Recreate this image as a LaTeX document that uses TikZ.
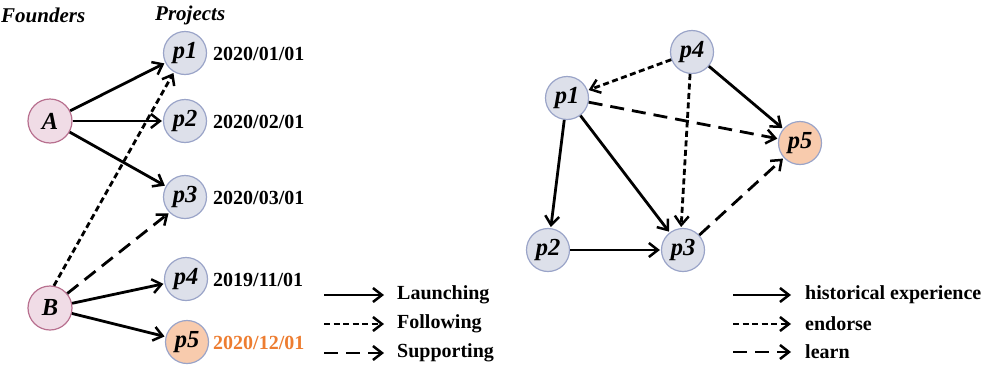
\documentclass[tikz,border=0pt]{standalone}
\usepackage{fontspec}
\setmainfont{Liberation Serif}
\usetikzlibrary{arrows.meta}
\definecolor{projfill}{HTML}{DDE0EA}
\definecolor{projdraw}{HTML}{9AA4C8}
\definecolor{foundfill}{HTML}{F0DCE6}
\definecolor{founddraw}{HTML}{B8708F}
\definecolor{hotfill}{HTML}{F8CBAD}
\definecolor{hotdate}{HTML}{ED7D31}
\tikzset{
  proj/.style={circle, minimum size=43pt, inner sep=0pt, fill=projfill, draw=projdraw, line width=1.2pt, font=\fontsize{24.5}{24}\selectfont\bfseries\itshape},
  hot/.style={proj, fill=hotfill},
  found/.style={circle, minimum size=44pt, inner sep=0pt, fill=foundfill, draw=founddraw, line width=1.2pt, font=\fontsize{24.5}{24}\selectfont\bfseries\itshape},
  datel/.style={anchor=west, inner sep=0pt, font=\fontsize{20}{20}\selectfont\bfseries},
  legt/.style={anchor=west, inner sep=0pt, font=\fontsize{20}{20}\selectfont\bfseries},
  headt/.style={anchor=west, inner sep=0pt, font=\fontsize{21}{21}\selectfont\bfseries\itshape},
  conn/.style={line width=2.8pt, -{Straight Barb[length=9pt,width=14pt,line width=2.5pt]}, shorten >=1pt},
  shortd/.style={conn, dash pattern=on 6pt off 3.5pt},
  longd/.style={conn, dash pattern=on 14pt off 8pt},
}
\begin{document}
\begin{tikzpicture}[x=1pt,y=-1pt]
\useasboundingbox (0,0) rectangle (985,370);
% headings
\node[headt] (hf) at (1,15) {Founders};
\node[headt] (hp) at (155,15) {Projects};
% left graph
\node[found] (A) at (50,121) {A};
\node[found] (B) at (50,308) {B};
\node[proj] (lp1) at (185,53) {p1};
\node[proj] (lp2) at (185,121) {p2};
\node[proj] (lp3) at (185,197) {p3};
\node[proj] (lp4) at (186,279) {p4};
\node[hot] (lp5) at (187,342) {p5};
\node[datel] (d1) at (213,54) {2020/01/01};
\node[datel] (d2) at (213,122) {2020/02/01};
\node[datel] (d3) at (213,198) {2020/03/01};
\node[datel] (d4) at (213,280) {2019/11/01};
\node[datel, text=hotdate] (d5) at (213,343) {2020/12/01};
\draw[conn] (A) -- (lp1);
\draw[conn] (A) -- (lp2);
\draw[conn] (A) -- (lp3);
\draw[conn] (B) -- (lp4);
\draw[conn] (B) -- (lp5);
\draw[shortd] (B.80) -- (lp1.240);
\draw[longd] (B.40) -- (lp3.225);
% left legend
\coordinate (la1) at (324,295); \coordinate (lb1) at (385,295);
\coordinate (la2) at (324,324); \coordinate (lb2) at (385,324);
\coordinate (la3) at (324,353); \coordinate (lb3) at (385,353);
\draw[conn] (la1) -- (lb1);
\draw[shortd] (la2) -- (lb2);
\draw[longd] (la3) -- (lb3);
\node[legt] (t1) at (397,295) {Launching};
\node[legt] (t2) at (397,324) {Following};
\node[legt] (t3) at (397,353) {Supporting};
% right graph
\node[proj] (p4) at (692,52) {p4};
\node[proj] (p1) at (567,98) {p1};
\node[hot] (p5) at (800,143) {p5};
\node[proj] (p2) at (548,250) {p2};
\node[proj] (p3) at (683,250) {p3};
\draw[shortd] (p4) -- (p1);
\draw[shortd] (p4.265) -- (p3.95);
\draw[conn] (p4) -- (p5);
\draw[longd] (p1) -- (p5);
\draw[conn] (p1) -- (p2);
\draw[conn] (p1) -- (p3);
\draw[conn] (p2) -- (p3);
\draw[longd] (p3) -- (p5);
% right legend
\coordinate (ra1) at (733,295); \coordinate (rb1) at (792,295);
\coordinate (ra2) at (733,324); \coordinate (rb2) at (792,324);
\coordinate (ra3) at (733,352); \coordinate (rb3) at (792,352);
\draw[conn] (ra1) -- (rb1);
\draw[shortd] (ra2) -- (rb2);
\draw[longd] (ra3) -- (rb3);
\node[legt] (r1) at (805,295) {historical experience};
\node[legt] (r2) at (805,324) {endorse};
\node[legt] (r3) at (805,352) {learn};
\end{tikzpicture}
\end{document}
